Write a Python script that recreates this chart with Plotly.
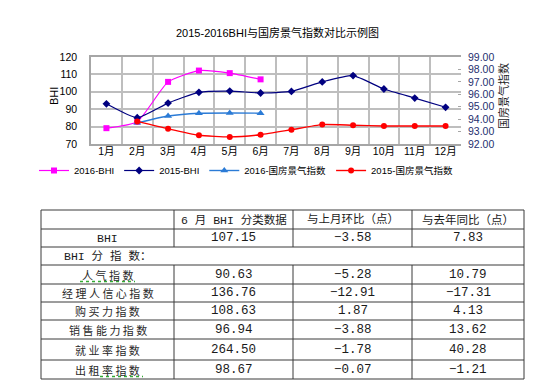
import plotly.graph_objects as go

# ---------------- data ----------------
months = ["1月", "2月", "3月", "4月", "5月", "6月", "7月", "8月", "9月", "10月", "11月", "12月"]
bhi_2016 = [79.1, 82.8, 105.7, 112.2, 110.73, 107.15]
bhi_2015 = [93.1, 85.1, 93.5, 99.7, 100.4, 99.32, 100.2, 105.7, 109.3, 101.6, 96.4, 91.1]
gf_2016_months = ["2月", "3月", "4月", "5月", "6月"]
gf_2016 = [93.7, 94.25, 94.48, 94.5, 94.48]
gf_2015_months = ["2月", "3月", "4月", "5月", "6月", "7月", "8月", "9月", "10月", "11月", "12月"]
gf_2015 = [93.82, 93.22, 92.7, 92.57, 92.75, 93.15, 93.56, 93.51, 93.45, 93.45, 93.45]

left_ticks = [70, 80, 90, 100, 110, 120]
right_ticks = [92, 93, 94, 95, 96, 97, 98, 99]

table_header = ["", "6 月 BHI 分类数据", "与上月环比（点）", "与去年同比（点）"]
row_labels = ["BHI", "BHI 分指数：", "人气指数", "经理人信心指数", "购买力指数", "销售能力指数", "就业率指数", "出租率指数"]
june_vals = [107.15, None, 90.63, 136.76, 108.63, 96.94, 264.50, 98.67]
mom_vals = [-3.58, None, -5.28, -12.91, 1.87, -3.88, -1.78, -0.07]
yoy_vals = [7.83, None, 10.79, -17.31, 4.13, 13.62, 40.28, -1.21]

# ---------------- layout geometry (pixels) ----------------
W, H = 550, 384
PL, PR, PT, PB = 83, 453, 49, 136
col_edges = [33, 166, 285, 404, 516]
row_edges = [202, 221, 239, 257, 276, 294, 312, 331, 352, 371]
merged_edge = 2  # the merged row lies between row_edges[2] and row_edges[3]


def px(x):
    return (x - PL) / (PR - PL)


def py(y):
    return (PB - y) / (PB - PT)


SANS = "Liberation Sans, Arial, Noto Sans CJK SC"
MONO = "Liberation Mono, DejaVu Sans Mono, Noto Sans CJK SC"
CJK = "Noto Sans CJK SC"
SM = 0.5

fig = go.Figure()

fig.add_trace(go.Scatter(
    x=months[:len(bhi_2016)], y=bhi_2016, name="2016-BHI", mode="lines+markers",
    line=dict(color="#FF00FF", width=1.2, shape="spline", smoothing=SM),
    marker=dict(symbol="square", size=6, color="#FF00FF"), yaxis="y"))
fig.add_trace(go.Scatter(
    x=months, y=bhi_2015, name="2015-BHI", mode="lines+markers",
    line=dict(color="#000080", width=1.2, shape="spline", smoothing=SM),
    marker=dict(symbol="diamond", size=6, color="#000080"), yaxis="y"))
fig.add_trace(go.Scatter(
    x=gf_2016_months, y=gf_2016, name="2016-国房景气指数", mode="lines+markers",
    line=dict(color="#2B7BD6", width=1.4, shape="spline", smoothing=SM),
    marker=dict(symbol="triangle-up", size=7, color="#2B7BD6"), yaxis="y2"))
fig.add_trace(go.Scatter(
    x=gf_2015_months, y=gf_2015, name="2015-国房景气指数", mode="lines+markers",
    line=dict(color="#FF0000", width=1.4, shape="spline", smoothing=SM),
    marker=dict(symbol="circle", size=6, color="#FF0000"), yaxis="y2"))

shapes = []
annotations = []

# table lines
for y in row_edges:
    shapes.append(dict(type="line", xref="paper", yref="paper",
                       x0=px(col_edges[0]), x1=px(col_edges[-1]), y0=py(y), y1=py(y),
                       line=dict(color="#3A3A3A", width=1)))
for j, x in enumerate(col_edges):
    if j in (0, len(col_edges) - 1):
        segs = [(row_edges[0], row_edges[-1])]
    else:
        segs = [(row_edges[0], row_edges[merged_edge]), (row_edges[merged_edge + 1], row_edges[-1])]
    for (a, b) in segs:
        shapes.append(dict(type="line", xref="paper", yref="paper",
                           x0=px(x), x1=px(x), y0=py(a), y1=py(b),
                           line=dict(color="#3A3A3A", width=1)))


def cell_text(text, col, row, family, size, color="#1a1a1a"):
    xc = (col_edges[col] + col_edges[col + 1]) / 2
    yc = (row_edges[row] + row_edges[row + 1]) / 2
    annotations.append(dict(text=text, xref="paper", yref="paper", x=px(xc), y=py(yc),
                            xanchor="center", yanchor="middle", showarrow=False,
                            font=dict(family=family, size=size, color=color)))


for c, h in enumerate(table_header):
    if h:
        cell_text(h, c, 0, MONO, 11.5)

for r, lab in enumerate(row_labels):
    row = r + 1
    if lab.startswith("BHI"):
        rest = lab[3:].strip()
        txt = "BHI" + (" " + " ".join(rest[:-1]) + rest[-1] if rest else "")
        cell_text(txt, 0, row, MONO, 11.5)
    else:
        cell_text(" ".join(lab), 0, row, CJK, 11, "#2a2a2a")
    for c, vals in ((1, june_vals), (2, mom_vals), (3, yoy_vals)):
        v = vals[r]
        if v is not None:
            s = f"{v:.2f}".replace("-", "−")
            cell_text(s, c, row, MONO, 12.5)

# spell-check squiggles
for (x0, x1, y) in [(72, 127, 273.5), (92, 135, 368.5)]:
    shapes.append(dict(type="line", xref="paper", yref="paper", x0=px(x0), x1=px(x1),
                       y0=py(y), y1=py(y), line=dict(color="#33AA33", width=1.3, dash="dot")))

# title and axis titles
annotations.append(dict(text="2015-2016BHI与国房景气指数对比示例图", xref="paper", yref="paper",
                        x=px(269), y=py(24), xanchor="center", yanchor="middle", showarrow=False,
                        font=dict(family=SANS, size=11, color="#000")))
annotations.append(dict(text="BHI", xref="paper", yref="paper", x=px(46), y=py(88),
                        xanchor="center", yanchor="middle", showarrow=False, textangle=-90,
                        font=dict(family=SANS, size=11, color="#000")))
annotations.append(dict(text="国房景气指数", xref="paper", yref="paper", x=px(495), y=py(88),
                        xanchor="center", yanchor="middle", showarrow=False, textangle=-90,
                        font=dict(family=SANS, size=11, color="#222")))

fig.update_layout(
    width=W, height=H,
    margin=dict(l=PL, r=W - PR, t=PT, b=H - PB, autoexpand=False),
    paper_bgcolor="white", plot_bgcolor="white",
    showlegend=True,
    legend=dict(orientation="h", x=px(26), xanchor="left", y=py(148), yanchor="top",
                font=dict(family=SANS, size=9.5, color="#000"), itemwidth=30,
                bgcolor="rgba(0,0,0,0)"),
    xaxis=dict(type="category", categoryorder="array", categoryarray=months,
               range=[-0.5, len(months) - 0.5], tickson="boundaries",
               showgrid=True, gridcolor="#BEBEBE", gridwidth=1.5,
               showline=True, linecolor="#A6A6A6", linewidth=1.5, mirror=True,
               ticks="", ticklabelstandoff=-3,
               tickfont=dict(family=SANS, size=10.5, color="#000"), automargin=False),
    yaxis=dict(range=[70, 120], tickvals=left_ticks, showgrid=True, gridcolor="#BEBEBE", gridwidth=1.5,
               showline=True, linecolor="#A6A6A6", linewidth=1.5, ticks="", zeroline=False,
               ticklabelstandoff=10, tickfont=dict(family=SANS, size=10.5, color="#000"), automargin=False),
    yaxis2=dict(range=[92, 99], tickvals=right_ticks, ticktext=[f"{v:.2f}" for v in right_ticks],
                overlaying="y", side="right", showgrid=False, zeroline=False,
                ticks="inside", ticklen=3, tickcolor="#A6A6A6", showline=False,
                ticklabelstandoff=6, tickfont=dict(family=SANS, size=10.5, color="#1F2F6F"),
                automargin=False),
    shapes=shapes, annotations=annotations,
)

fig.write_html("out.html")
